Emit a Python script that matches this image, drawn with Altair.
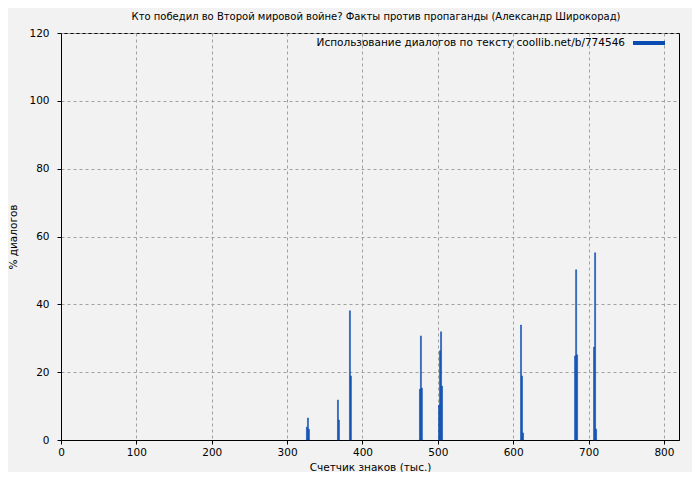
import altair as alt
import pandas as pd

# Data: position (thousand characters) and % of dialogues
positions = [325.6, 327.0, 328.3,
             366.8, 368.1,
             382.7, 384.0,
             475.6, 476.9, 478.2,
             500.9, 502.2, 503.6, 504.9,
             609.7, 611.0, 612.4,
             681.4, 682.8, 684.1,
             706.6, 708.0, 709.3]
values = [3.8, 6.5, 3.2,
          11.8, 5.9,
          38.1, 18.9,
          15.0, 30.7, 15.3,
          10.3, 26.3, 31.9, 15.9,
          33.9, 18.9, 2.1,
          24.8, 50.2, 25.1,
          27.4, 55.2, 3.2]
bin_width = 1.35

title_text = "Кто победил во Второй мировой войне? Факты против пропаганды (Александр Широкорад)"
legend_text = "Использование диалогов по тексту coollib.net/b/774546"
x_title = "Счетчик знаков (тыс.)"
y_title = "% диалогов"

FONT = "DejaVu Sans"
BAR = "#0a4cb0"
W, H = 618, 407

df = pd.DataFrame({"x": positions, "y": values})

xscale = alt.Scale(domain=[0, 820], nice=False, zero=False)
yscale = alt.Scale(domain=[0, 120], nice=False)

bars = alt.Chart(df).transform_calculate(
    x2="datum.x + %f" % bin_width
).mark_bar(color=BAR, opacity=1, stroke=BAR, strokeWidth=0.5).encode(
    x=alt.X("x:Q", scale=xscale, title=x_title,
            axis=alt.Axis(values=list(range(0, 801, 100)), format="d",
                          labelFlush=False)),
    x2="x2:Q",
    y=alt.Y("y:Q", scale=yscale, title=y_title,
            axis=alt.Axis(values=list(range(0, 121, 20)), format="d",
                          labelFlush=False)),
    y2=alt.datum(0),
)

leg_df = pd.DataFrame({"label": [legend_text]})
leg_text = alt.Chart(leg_df).mark_text(
    align="right", baseline="middle", font=FONT, fontSize=10.5, color="black"
).encode(text="label:N", x=alt.value(564), y=alt.value(10))
leg_line = alt.Chart(leg_df).mark_rule(color=BAR, strokeWidth=4).encode(
    x=alt.value(572), x2=alt.value(604), y=alt.value(10)
)

chart = alt.layer(bars, leg_text, leg_line).properties(
    width=W, height=H,
    title=alt.TitleParams(title_text, font=FONT, fontSize=10, fontWeight="normal",
                          color="black", anchor="middle", offset=6, dx=6),
    autosize=alt.AutoSizeParams(type="none"),
    padding={"left": 53, "top": 25, "right": 13, "bottom": 32},
).configure(
    background="#f2f2f2",
).configure_view(
    fill="#f2f2f2", stroke="black", strokeWidth=1,
).configure_axis(
    domainColor="black", tickColor="black", tickSize=4,
    labelFont=FONT, labelFontSize=10.5, labelColor="black",
    titleFont=FONT, titleFontSize=10.5, titleFontWeight="normal", titleColor="black",
    gridColor="#a0a0a0", gridDash=[3, 3], gridWidth=1,
).configure_axisX(
    labelPadding=3, titlePadding=5,
).configure_axisY(
    labelPadding=8, titlePadding=10,
)

chart.save("out.html", embed_options={"renderer": "svg", "actions": False})
